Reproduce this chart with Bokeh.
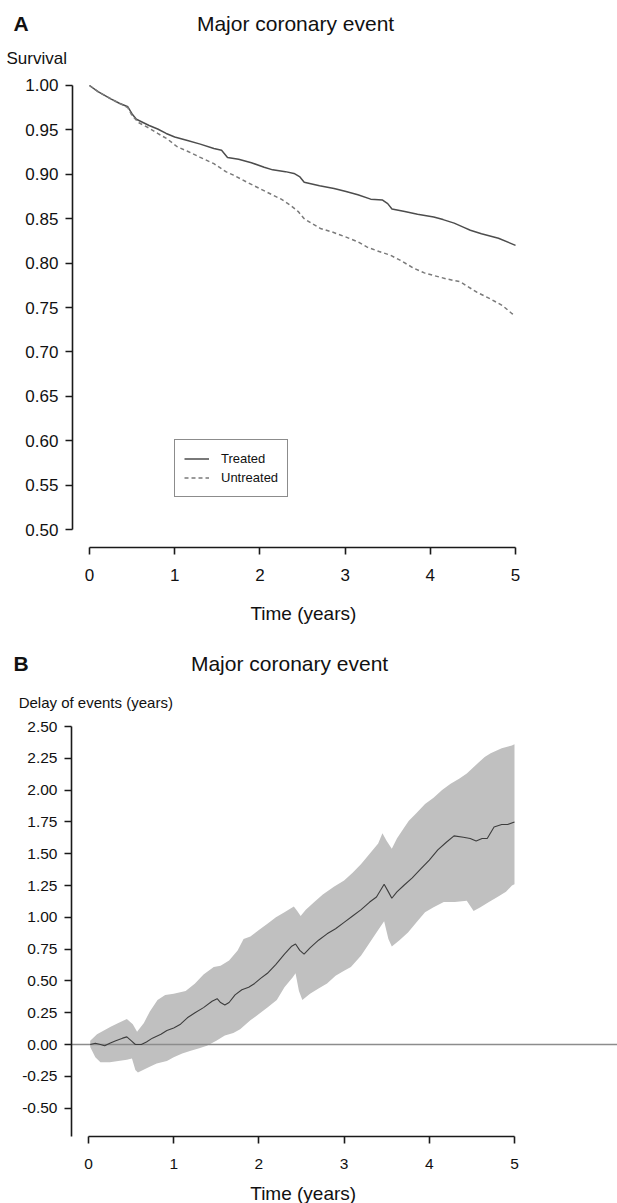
from bokeh.plotting import figure
from bokeh.models import Range1d, FixedTicker, Label
from bokeh.layouts import column
from bokeh.embed import file_html
from bokeh.resources import INLINE

# ---------------- Data: panel A (survival) ----------------
treated_t = [0.00, 0.10, 0.25, 0.35, 0.45, 0.50, 0.55, 0.70, 0.80, 0.90, 1.00, 1.15, 1.30, 1.46,
             1.55, 1.62, 1.75, 1.90, 2.05, 2.15, 2.30, 2.40, 2.47, 2.52, 2.70, 2.87, 3.00, 3.15,
             3.30, 3.44, 3.50, 3.55, 3.70, 3.85, 4.04, 4.15, 4.28, 4.40, 4.47, 4.60, 4.80, 5.00]
treated_s = [1.000, 0.993, 0.985, 0.980, 0.976, 0.968, 0.962, 0.955, 0.951, 0.946, 0.942, 0.938,
             0.934, 0.929, 0.927, 0.919, 0.917, 0.913, 0.908, 0.905, 0.903, 0.901, 0.897, 0.891,
             0.887, 0.884, 0.881, 0.877, 0.872, 0.871, 0.867, 0.861, 0.858, 0.855, 0.852, 0.849,
             0.845, 0.840, 0.837, 0.833, 0.828, 0.820]

untreated_t = [0.00, 0.10, 0.25, 0.35, 0.45, 0.50, 0.58, 0.70, 0.80, 0.91, 1.03, 1.15, 1.30, 1.46,
               1.60, 1.69, 1.85, 2.08, 2.25, 2.36, 2.45, 2.52, 2.62, 2.71, 2.85, 3.02, 3.15, 3.26,
               3.40, 3.53, 3.65, 3.81, 3.93, 4.04, 4.20, 4.35, 4.45, 4.55, 4.70, 4.85, 4.96, 5.00]
untreated_s = [1.000, 0.993, 0.985, 0.980, 0.975, 0.966, 0.958, 0.952, 0.946, 0.940, 0.931, 0.926,
               0.919, 0.912, 0.903, 0.899, 0.891, 0.880, 0.872, 0.865, 0.858, 0.850, 0.844, 0.839,
               0.835, 0.829, 0.824, 0.818, 0.813, 0.809, 0.803, 0.794, 0.789, 0.786, 0.782, 0.779,
               0.773, 0.767, 0.760, 0.752, 0.743, 0.741]

# ---------------- Data: panel B (delay of events) ----------------
delay_t = [0.02, 0.08, 0.14, 0.19, 0.25, 0.32, 0.40, 0.45, 0.50, 0.55, 0.62, 0.68, 0.75, 0.85,
           0.92, 1.00, 1.08, 1.16, 1.25, 1.35, 1.45, 1.51, 1.55, 1.60, 1.65, 1.72, 1.80, 1.88,
           1.95, 2.02, 2.10, 2.20, 2.30, 2.38, 2.43, 2.48, 2.53, 2.60, 2.70, 2.80, 2.90, 3.00,
           3.10, 3.20, 3.30, 3.38, 3.47, 3.52, 3.56, 3.62, 3.70, 3.80, 3.90, 4.00, 4.10, 4.20,
           4.29, 4.40, 4.48, 4.55, 4.62, 4.68, 4.76, 4.85, 4.92, 5.00]
delay_est = [0.00, 0.01, 0.00, -0.01, 0.01, 0.03, 0.05, 0.06, 0.03, 0.00, 0.00, 0.02, 0.05, 0.08,
             0.11, 0.13, 0.16, 0.21, 0.25, 0.29, 0.34, 0.36, 0.33, 0.31, 0.33, 0.39, 0.43, 0.45,
             0.48, 0.52, 0.56, 0.63, 0.71, 0.77, 0.79, 0.74, 0.71, 0.76, 0.82, 0.87, 0.91, 0.96,
             1.01, 1.06, 1.12, 1.16, 1.26, 1.20, 1.15, 1.20, 1.25, 1.31, 1.38, 1.45, 1.53, 1.59,
             1.64, 1.63, 1.62, 1.60, 1.62, 1.62, 1.71, 1.73, 1.73, 1.75]

lower_t = [0.02, 0.08, 0.14, 0.25, 0.35, 0.45, 0.51, 0.55, 0.58, 0.70, 0.80, 0.92, 1.00, 1.10,
           1.20, 1.30, 1.39, 1.50, 1.60, 1.70, 1.78, 1.90, 2.00, 2.10, 2.21, 2.30, 2.40, 2.43,
           2.47, 2.51, 2.60, 2.70, 2.80, 2.90, 3.00, 3.08, 3.20, 3.30, 3.40, 3.47, 3.52, 3.56,
           3.65, 3.75, 3.86, 3.95, 4.05, 4.17, 4.30, 4.44, 4.52, 4.60, 4.70, 4.80, 4.90, 4.97, 5.00]
lower_d = [-0.02, -0.10, -0.14, -0.14, -0.13, -0.12, -0.11, -0.20, -0.22, -0.18, -0.15, -0.13,
           -0.10, -0.07, -0.05, -0.03, -0.01, 0.03, 0.07, 0.09, 0.12, 0.19, 0.24, 0.29, 0.35,
           0.45, 0.53, 0.56, 0.42, 0.35, 0.40, 0.44, 0.48, 0.54, 0.58, 0.61, 0.70, 0.80, 0.90,
           0.97, 0.83, 0.77, 0.82, 0.88, 0.97, 1.04, 1.08, 1.12, 1.12, 1.13, 1.05, 1.08, 1.12,
           1.16, 1.20, 1.25, 1.26]

upper_t = [0.02, 0.10, 0.26, 0.35, 0.45, 0.52, 0.57, 0.65, 0.72, 0.81, 0.90, 1.00, 1.14, 1.25,
           1.35, 1.47, 1.55, 1.65, 1.75, 1.82, 1.90, 2.00, 2.10, 2.20, 2.30, 2.41, 2.45, 2.49,
           2.55, 2.65, 2.75, 2.88, 3.00, 3.10, 3.20, 3.30, 3.40, 3.45, 3.50, 3.56, 3.62, 3.70,
           3.76, 3.85, 3.95, 4.05, 4.15, 4.25, 4.35, 4.44, 4.55, 4.65, 4.72, 4.85, 4.97, 5.00]
upper_d = [0.03, 0.08, 0.14, 0.17, 0.20, 0.16, 0.10, 0.17, 0.26, 0.35, 0.39, 0.40, 0.42, 0.48,
           0.55, 0.61, 0.62, 0.66, 0.74, 0.83, 0.85, 0.90, 0.95, 1.00, 1.04, 1.085, 1.05, 1.01,
           1.06, 1.12, 1.18, 1.24, 1.29, 1.35, 1.42, 1.50, 1.58, 1.66, 1.60, 1.54, 1.62, 1.70,
           1.76, 1.82, 1.89, 1.94, 2.00, 2.05, 2.09, 2.13, 2.20, 2.26, 2.29, 2.33, 2.35, 2.36]

# ---------------- Ticks ----------------
x_ticks = [0, 1, 2, 3, 4, 5]
x_labels = ["0", "1", "2", "3", "4", "5"]
ya_ticks = [0.50, 0.55, 0.60, 0.65, 0.70, 0.75, 0.80, 0.85, 0.90, 0.95, 1.00]
ya_labels = ["0.50", "0.55", "0.60", "0.65", "0.70", "0.75", "0.80", "0.85", "0.90", "0.95", "1.00"]
yb_ticks = [-0.50, -0.25, 0.00, 0.25, 0.50, 0.75, 1.00, 1.25, 1.50, 1.75, 2.00, 2.25, 2.50]
yb_labels = ["-0.50", "-0.25", "0.00", "0.25", "0.50", "0.75", "1.00", "1.25", "1.50", "1.75",
             "2.00", "2.25", "2.50"]

FONT = "Liberation Sans"
AXIS_COLOR = "#1a1a1a"


def style_axes(p, yticks, ylabels, ybounds, x_at, y_at, tick_size, x_standoff):
    xa = p.xaxis[0]
    ya = p.yaxis[0]
    xa.ticker = FixedTicker(ticks=x_ticks)
    xa.major_label_overrides = {t: l for t, l in zip(x_ticks, x_labels)}
    xa.bounds = (0, 5)
    xa.fixed_location = y_at
    ya.ticker = FixedTicker(ticks=yticks)
    ya.major_label_overrides = {t: l for t, l in zip(yticks, ylabels)}
    ya.bounds = ybounds
    ya.fixed_location = x_at
    for ax in (xa, ya):
        ax.axis_line_color = AXIS_COLOR
        ax.axis_line_width = 1.6
        ax.major_tick_line_color = AXIS_COLOR
        ax.major_tick_line_width = 1.6
        ax.major_tick_out = 7
        ax.major_tick_in = 0
        ax.minor_tick_line_color = None
        ax.major_label_text_font = FONT
        ax.major_label_text_font_size = tick_size
        ax.major_label_text_color = "#111111"
    xa.major_label_standoff = x_standoff
    ya.major_label_standoff = 7
    p.xgrid.visible = False
    p.ygrid.visible = False
    p.outline_line_color = None
    p.background_fill_color = "white"
    p.border_fill_color = "white"


def add_text(p, x, y, text, size, align="left", bold=False):
    p.add_layout(Label(x=x, y=y, text=text, text_font=FONT, text_font_size=size,
                       text_align=align, text_baseline="middle", text_color="#111111",
                       text_font_style="bold" if bold else "normal"))


# ---------------- Panel A ----------------
pA = figure(width=617, height=638, x_range=Range1d(-1.0446, 6.197),
            y_range=Range1d(0.3773, 1.0957),
            output_backend="svg", toolbar_location=None,
            min_border_left=0, min_border_right=0, min_border_top=0, min_border_bottom=0)
style_axes(pA, ya_ticks, ya_labels, (0.5, 1.0), -0.2, 0.48, "17px", 15)

pA.line(treated_t, treated_s, line_color="#4d4d4d", line_width=1.5, legend_label="Treated")
pA.line(untreated_t, untreated_s, line_color="#7a7a7a", line_width=1.5, line_dash="4 3",
        legend_label="Untreated")

lg = pA.legend[0]
lg.location = (174, 141)
lg.border_line_color = AXIS_COLOR
lg.border_line_width = 1.2
lg.padding = 9
lg.spacing = 0
lg.margin = 0
lg.label_height = 19
lg.glyph_height = 19
lg.glyph_width = 25
lg.label_standoff = 12
lg.label_text_font = FONT
lg.label_text_font_size = "13px"
lg.label_text_color = "#111111"
lg.background_fill_alpha = 1.0

add_text(pA, -0.892, 1.0698, "A", "21px", bold=True)
add_text(pA, 2.418, 1.0698, "Major coronary event", "21px", align="center")
add_text(pA, -0.974, 1.0304, "Survival", "17px")
add_text(pA, 2.51, 0.4054, "Time (years)", "19px", align="center")

# ---------------- Panel B ----------------
pB = figure(width=617, height=565, x_range=Range1d(-1.033, 6.209), y_range=Range1d(-1.25, 3.192),
            output_backend="svg", toolbar_location=None,
            min_border_left=0, min_border_right=0, min_border_top=0, min_border_bottom=0)
style_axes(pB, yb_ticks, yb_labels, (-0.724, 2.5), -0.2, -0.724, "15.5px", 15)

band_x = upper_t + lower_t[::-1]
band_y = upper_d + lower_d[::-1]
pB.patch(band_x, band_y, fill_color="#c0c0c0", line_color=None)
# horizontal reference line at zero, from the y axis to the right edge
pB.line([-0.2, 6.209], [0, 0], line_color="#8c8c8c", line_width=1.6)
pB.line(delay_t, delay_est, line_color="#3d3d3d", line_width=1.1)

add_text(pB, -0.88, 2.995, "B", "21px", bold=True)
add_text(pB, 2.36, 2.995, "Major coronary event", "21px", align="center")
add_text(pB, -0.82, 2.689, "Delay of events (years)", "15px")
add_text(pB, 2.52, -1.171, "Time (years)", "19px", align="center")

layout = column(pA, pB, spacing=0)
open("out.html", "w").write(file_html(layout, INLINE))
